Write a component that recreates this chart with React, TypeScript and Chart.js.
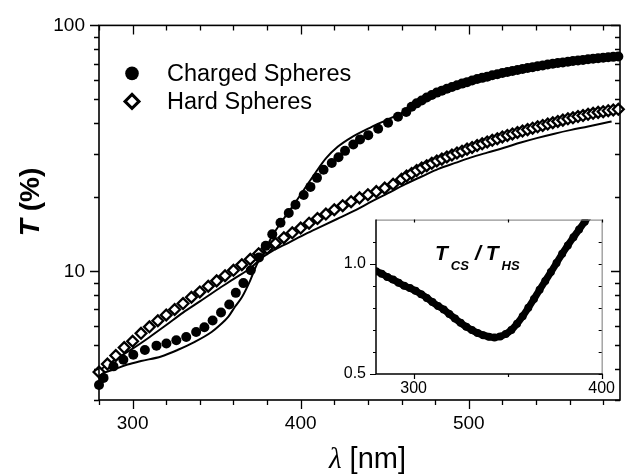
import React, { useEffect, useRef } from "react";
import { Chart, registerables } from "chart.js";

Chart.register(...registerables);

const FONT = "'Liberation Sans', Arial, Helvetica, sans-serif";
const SERIF = "'Liberation Serif', 'Times New Roman', serif";

// ---- Charged spheres (filled circles) ----
const csLambda = [
  280, 282.7, 288.6, 294.5, 300.4, 307.3, 314.2, 320.1, 326.0, 331.9,
  337.8, 342.7, 347.6, 352.6, 357.5, 361.4, 365.9, 370.3, 375.2, 379.2,
  383.1, 388.0, 392.9, 396.9, 401.8, 405.8, 409.7, 413.6, 418.5, 422.5,
  426.4, 431.3, 435.3, 440.2, 446.1, 452.0, 457.9, 462.8,
  466, 469, 472, 475, 478, 481, 484, 487, 490, 493,
  496, 499, 502, 505, 508, 511, 514, 517, 520, 523,
  526, 529, 532, 535, 538, 541, 544, 547, 550, 553,
  556, 559, 562, 565, 568, 571, 574, 577, 580, 583,
  586, 589,
];
const csT = [
  3.45, 3.69, 4.11, 4.37, 4.58, 4.79, 4.99, 5.09, 5.25, 5.41,
  5.67, 5.93, 6.31, 6.81, 7.34, 8.18, 8.96, 10.1, 11.4, 12.7,
  14.16, 15.77, 17.28, 18.65, 20.44, 22.05, 24.0, 25.9, 27.6, 29.1,
  30.9, 32.8, 34.4, 35.8, 38.0, 40.2, 42.5, 44.5,
  46.7, 48.2, 49.5, 50.9, 52.1, 53.3, 54.3, 55.3, 56.2, 57.1,
  58.0, 58.8, 59.7, 60.5, 61.2, 61.9, 62.7, 63.3, 64.0, 64.7,
  65.3, 65.9, 66.5, 67.1, 67.6, 68.2, 68.7, 69.3, 69.8, 70.3,
  70.7, 71.2, 71.6, 72.0, 72.4, 72.8, 73.2, 73.6, 73.9, 74.2,
  74.5, 74.8,
];

// ---- Hard spheres (open diamonds) ----
const hsLambda = [
  280, 285, 290, 295, 300, 305, 310, 315, 320, 325,
  330, 335, 340, 345, 350, 355, 360, 365, 370, 375,
  380, 385, 390, 395, 400, 405, 410, 415, 420, 425,
  430, 435, 440, 445, 450, 455, 460,
  463, 466, 469, 472, 475, 478, 481, 484, 487, 490,
  493, 496, 499, 502, 505, 508, 511, 514, 517, 520,
  523, 526, 529, 532, 535, 538, 541, 544, 547, 550,
  553, 556, 559, 562, 565, 568, 571, 574, 577, 580,
  583, 586, 589,
];
const hsT = [
  3.9, 4.2, 4.55, 4.9, 5.2, 5.6, 5.95, 6.3, 6.65, 7.0,
  7.4, 7.85, 8.25, 8.7, 9.15, 9.6, 10.1, 10.65, 11.2, 11.8,
  12.4, 13.0, 13.7, 14.35, 15.0, 15.7, 16.4, 17.1, 17.8, 18.5,
  19.2, 19.9, 20.5, 21.1, 21.8, 22.6, 23.7,
  24.4, 25.0, 25.7, 26.3, 26.9, 27.5, 28.1, 28.6, 29.2, 29.7,
  30.3, 30.8, 31.4, 31.9, 32.5, 33.0, 33.6, 34.1, 34.6, 35.2,
  35.7, 36.2, 36.7, 37.2, 37.7, 38.2, 38.7, 39.2, 39.7, 40.2,
  40.7, 41.2, 41.7, 42.1, 42.6, 43.0, 43.5, 43.9, 44.3, 44.6,
  45.0, 45.3, 45.6,
];

// ---- Theory curves (solid lines) ----
const csFitLambda = [
  280, 290, 297, 305, 317, 327, 337, 347, 352, 357,
  361, 365, 370, 374, 378, 383, 390, 395, 401, 409,
  415, 422, 430, 442, 452, 462, 470, 480, 490, 500,
  510, 520, 530, 540, 550, 560, 570, 580, 585,
];
const csFitT = [
  3.81, 4.02, 4.18, 4.32, 4.51, 4.8, 5.17, 5.67, 6.05, 6.55,
  7.2, 7.85, 9.2, 10.7, 11.9, 13.9, 16.4, 18.3, 21.0, 25.3,
  28.8, 32.1, 35.0, 38.6, 41.5, 44.8, 48.9, 52.9, 56.3, 59.2,
  61.8, 64.1, 66.2, 68.0, 69.9, 71.4, 72.7, 73.9, 74.4,
];
const hsFitLambda = [
  280, 290, 300, 310, 320, 330, 340, 350, 360, 370,
  378, 383, 393, 403, 413, 423, 433, 442, 452, 462,
  472, 482, 492, 501, 511, 521, 531, 541, 551, 561,
  571, 580, 585,
];
const hsFitT = [
  3.95, 4.4, 4.85, 5.4, 6.05, 6.8, 7.55, 8.4, 9.3, 10.3,
  11.5, 12.1, 13.1, 14.2, 15.3, 16.5, 17.8, 19.2, 20.8, 22.6,
  24.3, 26.1, 27.6, 29.0, 30.4, 31.8, 33.4, 34.9, 36.3, 37.6,
  38.8, 40.0, 40.7,
];

// ---- Inset: ratio T_CS / T_HS ----
const ratioLambda = [
  280, 283, 286, 289, 292, 295, 298, 301, 304, 307,
  310, 313, 316, 319, 322, 325, 328, 331, 334, 337,
  340, 343, 346, 349, 352, 355, 358, 361, 364, 367,
  370, 373, 376, 379, 382, 385, 388, 391, 394,
];
const ratioValue = [
  0.966, 0.955, 0.94, 0.928, 0.914, 0.9, 0.89, 0.877, 0.862, 0.845,
  0.826, 0.808, 0.792, 0.772, 0.752, 0.732, 0.714, 0.699, 0.686, 0.676,
  0.669, 0.666, 0.67, 0.681, 0.7, 0.728, 0.762, 0.8, 0.84, 0.882,
  0.922, 0.962, 1.003, 1.045, 1.083, 1.12, 1.155, 1.19, 1.225,
];

// ---- Axis ticks / labels ----
const xAxisTicks = [300, 400, 500];
const xTickMarks = [280, 300, 320, 340, 360, 380, 400, 420, 440, 460, 480, 500, 520, 540, 560, 580];
const yAxisTicks = [10, 100];
const yTickMarks = [3, 4, 5, 6, 7, 8, 9, 10, 20, 30, 40, 50, 60, 70, 80, 90, 100];
const insetXTicks = [300, 400];
const insetXMarks = [300, 350, 400];
const insetYTicks = [0.5, 1.0];
const insetYMarks = [0.5, 0.6, 0.7, 0.8, 0.9, 1.0, 1.1];
const legendLabels = ["Charged Spheres", "Hard Spheres"];

const toPoints = (xs: number[], ys: number[]) => xs.map((x, i) => ({ x, y: ys[i] }));

const mainDecor = {
  id: "mainDecor",
  afterDraw(chart: any) {
    const { ctx, chartArea: a, scales } = chart;
    const xs = scales.x;
    const ys = scales.y;
    ctx.save();
    ctx.strokeStyle = "#000";
    ctx.lineWidth = 1.6;
    ctx.strokeRect(a.left, a.top, a.right - a.left, a.bottom - a.top);
    ctx.lineWidth = 1.3;
    ctx.beginPath();
    for (const v of xTickMarks) {
      const p = Math.round(xs.getPixelForValue(v)) + 0.5;
      const len = xAxisTicks.includes(v) ? 9 : 5;
      ctx.moveTo(p, a.bottom);
      ctx.lineTo(p, a.bottom + len);
      ctx.moveTo(p, a.top);
      ctx.lineTo(p, a.top + len);
    }
    for (const v of yTickMarks) {
      const p = Math.round(ys.getPixelForValue(v)) + 0.5;
      const len = yAxisTicks.includes(v) ? 9 : 5;
      ctx.moveTo(a.left, p);
      ctx.lineTo(a.left - len, p);
      ctx.moveTo(a.right, p);
      ctx.lineTo(a.right - len, p);
    }
    ctx.stroke();

    // legend
    const lx = a.left + 33;
    ctx.fillStyle = "#000";
    ctx.beginPath();
    ctx.arc(lx, a.top + 48, 6.8, 0, Math.PI * 2);
    ctx.fill();
    const dy = a.top + 76;
    ctx.beginPath();
    ctx.moveTo(lx, dy - 7);
    ctx.lineTo(lx + 7, dy);
    ctx.lineTo(lx, dy + 7);
    ctx.lineTo(lx - 7, dy);
    ctx.closePath();
    ctx.fillStyle = "#fff";
    ctx.fill();
    ctx.lineWidth = 3;
    ctx.strokeStyle = "#000";
    ctx.stroke();
    ctx.fillStyle = "#000";
    ctx.font = `23.5px ${FONT}`;
    ctx.textAlign = "left";
    ctx.textBaseline = "alphabetic";
    ctx.fillText(legendLabels[0], a.left + 68, a.top + 56);
    ctx.fillText(legendLabels[1], a.left + 68, a.top + 84);

    // x title
    const xc = (a.left + a.right) / 2 + 8;
    ctx.font = `italic 29px ${SERIF}`;
    const w1 = ctx.measureText("\u03bb").width;
    ctx.font = `29px ${FONT}`;
    const w2 = ctx.measureText(" [nm]").width;
    const x0 = xc - (w1 + w2) / 2;
    ctx.font = `italic 29px ${SERIF}`;
    ctx.fillText("\u03bb", x0, 468);
    ctx.font = `29px ${FONT}`;
    ctx.fillText(" [nm]", x0 + w1, 468);

    // y title
    ctx.save();
    ctx.translate(39, 202);
    ctx.rotate(-Math.PI / 2);
    ctx.font = `italic bold 28px ${FONT}`;
    const t1 = ctx.measureText("T").width;
    ctx.font = `bold 28px ${FONT}`;
    const t2 = ctx.measureText(" (%)").width;
    const s0 = -(t1 + t2) / 2;
    ctx.font = `italic bold 28px ${FONT}`;
    ctx.fillText("T", s0, 0);
    ctx.font = `bold 28px ${FONT}`;
    ctx.fillText(" (%)", s0 + t1, 0);
    ctx.restore();

    ctx.restore();
  },
};

const insetDecor = {
  id: "insetDecor",
  afterDraw(chart: any) {
    const { ctx, chartArea: a, scales } = chart;
    const xs = scales.x;
    const ys = scales.y;
    ctx.save();
    // top/right frame (grey)
    ctx.strokeStyle = "#777";
    ctx.lineWidth = 1;
    ctx.beginPath();
    ctx.moveTo(a.left, a.top + 0.5);
    ctx.lineTo(a.right + 0.5, a.top + 0.5);
    ctx.lineTo(a.right + 0.5, a.bottom);
    ctx.stroke();
    // left/bottom axes
    ctx.strokeStyle = "#000";
    ctx.lineWidth = 1.5;
    ctx.beginPath();
    ctx.moveTo(a.left, a.top);
    ctx.lineTo(a.left, a.bottom);
    ctx.lineTo(a.right + 1, a.bottom);
    ctx.stroke();
    ctx.lineWidth = 1.2;
    ctx.beginPath();
    for (const v of insetXMarks) {
      const p = Math.round(xs.getPixelForValue(v)) + 0.5;
      const major = insetXTicks.includes(v);
      ctx.moveTo(p, a.bottom);
      ctx.lineTo(p, a.bottom + (major ? 5 : 3));
      ctx.moveTo(p, a.top);
      ctx.lineTo(p, a.top + 3);
    }
    for (const v of insetYMarks) {
      const p = Math.round(ys.getPixelForValue(v)) + 0.5;
      const major = insetYTicks.includes(v);
      ctx.moveTo(a.left, p);
      ctx.lineTo(a.left - (major ? 6 : 3), p);
      ctx.moveTo(a.right, p);
      ctx.lineTo(a.right - 3, p);
    }
    ctx.stroke();

    // title T_CS / T_HS
    ctx.fillStyle = "#000";
    ctx.textAlign = "left";
    ctx.textBaseline = "alphabetic";
    const by = a.top + 40;
    let x = a.left + 59;
    ctx.font = `italic bold 21px ${FONT}`;
    ctx.fillText("T", x, by);
    x += ctx.measureText("T").width + 3;
    ctx.font = `italic bold 13px ${FONT}`;
    ctx.fillText("CS", x, by + 10);
    x += ctx.measureText("CS").width + 6;
    ctx.font = `italic bold 21px ${FONT}`;
    ctx.fillText("/", x, by);
    x += ctx.measureText("/").width + 5;
    ctx.fillText("T", x, by);
    x += ctx.measureText("T").width + 3;
    ctx.font = `italic bold 13px ${FONT}`;
    ctx.fillText("HS", x, by + 10);
    ctx.restore();
  },
};

export default function App() {
  const mainRef = useRef<HTMLCanvasElement>(null);
  const insetRef = useRef<HTMLCanvasElement>(null);

  useEffect(() => {
    const mainChart = new Chart(mainRef.current as HTMLCanvasElement, {
      type: "line",
      data: {
        datasets: [
          {
            label: "CS fit",
            data: toPoints(csFitLambda, csFitT),
            borderColor: "#000",
            borderWidth: 2,
            pointRadius: 0,
            cubicInterpolationMode: "monotone",
            fill: false,
            order: 3,
          },
          {
            label: "HS fit",
            data: toPoints(hsFitLambda, hsFitT),
            borderColor: "#000",
            borderWidth: 2,
            pointRadius: 0,
            cubicInterpolationMode: "monotone",
            fill: false,
            order: 3,
          },
          {
            label: legendLabels[1],
            data: toPoints(hsLambda, hsT),
            showLine: false,
            pointStyle: "rectRot",
            pointRadius: 5.4,
            pointBorderWidth: 2.3,
            pointBorderColor: "#000",
            pointBackgroundColor: "#fff",
            clip: false,
            order: 2,
          },
          {
            label: legendLabels[0],
            data: toPoints(csLambda, csT),
            showLine: false,
            pointStyle: "circle",
            pointRadius: 5,
            pointBorderWidth: 0,
            pointBackgroundColor: "#000",
            pointBorderColor: "#000",
            clip: false,
            order: 1,
          },
        ] as any,
      },
      options: {
        responsive: false,
        animation: false,
        devicePixelRatio: 1,
        layout: { padding: { left: 0, top: 17, right: 8, bottom: 0 } },
        plugins: { legend: { display: false }, tooltip: { enabled: false } },
        scales: {
          x: {
            type: "linear",
            min: 280,
            max: 590,
            grid: { display: false, drawTicks: false },
            border: { display: false },
            ticks: {
              font: { size: 19, family: FONT },
              color: "#000",
              padding: 12,
              maxRotation: 0,
              autoSkip: false,
              callback: (v: any) => String(v),
            },
            afterBuildTicks: (s: any) => {
              s.ticks = xAxisTicks.map((v) => ({ value: v }));
            },
            afterFit: (s: any) => {
              s.height = 74;
            },
          },
          y: {
            type: "logarithmic",
            min: 3,
            max: 100,
            grid: { display: false, drawTicks: false },
            border: { display: false },
            ticks: {
              font: { size: 19, family: FONT },
              color: "#000",
              padding: 14,
              autoSkip: false,
              callback: (v: any) => String(v),
            },
            afterBuildTicks: (s: any) => {
              s.ticks = yAxisTicks.map((v) => ({ value: v }));
            },
            afterFit: (s: any) => {
              s.width = 99;
            },
          },
        },
      } as any,
      plugins: [mainDecor],
    });

    const insetChart = new Chart(insetRef.current as HTMLCanvasElement, {
      type: "line",
      data: {
        datasets: [
          {
            label: "ratio",
            data: toPoints(ratioLambda, ratioValue),
            borderColor: "#000",
            borderWidth: 7,
            borderCapStyle: "round",
            borderJoinStyle: "round",
            pointRadius: 4,
            pointBorderWidth: 0,
            pointBackgroundColor: "#000",
            cubicInterpolationMode: "monotone",
            fill: false,
            clip: 0,
          },
        ] as any,
      },
      options: {
        responsive: false,
        animation: false,
        devicePixelRatio: 1,
        layout: { padding: { left: 0, top: 17, right: 18, bottom: 0 } },
        plugins: { legend: { display: false }, tooltip: { enabled: false } },
        scales: {
          x: {
            type: "linear",
            min: 280,
            max: 400,
            grid: { display: false, drawTicks: false },
            border: { display: false },
            ticks: {
              font: { size: 16, family: FONT },
              color: "#000",
              padding: 5,
              maxRotation: 0,
              autoSkip: false,
              callback: (v: any) => String(v),
            },
            afterBuildTicks: (s: any) => {
              s.ticks = insetXTicks.map((v) => ({ value: v }));
            },
            afterFit: (s: any) => {
              s.height = 26;
            },
          },
          y: {
            type: "linear",
            min: 0.5,
            max: 1.2,
            grid: { display: false, drawTicks: false },
            border: { display: false },
            ticks: {
              font: { size: 16, family: FONT },
              color: "#000",
              padding: 10,
              autoSkip: false,
              callback: (v: any) => Number(v).toFixed(1),
            },
            afterBuildTicks: (s: any) => {
              s.ticks = insetYTicks.map((v) => ({ value: v }));
            },
            afterFit: (s: any) => {
              s.width = 46;
            },
          },
        },
      } as any,
      plugins: [insetDecor],
    });

    return () => {
      mainChart.destroy();
      insetChart.destroy();
    };
  }, []);

  return (
    <div
      style={{
        position: "fixed",
        left: 0,
        top: 0,
        width: 628,
        height: 474,
        background: "#fff",
      }}
    >
      <canvas
        ref={mainRef}
        width={628}
        height={474}
        style={{ position: "absolute", left: 0, top: 0, width: 628, height: 474 }}
      />
      <canvas
        ref={insetRef}
        width={290}
        height={200}
        style={{ position: "absolute", left: 330, top: 200, width: 290, height: 200 }}
      />
    </div>
  );
}
